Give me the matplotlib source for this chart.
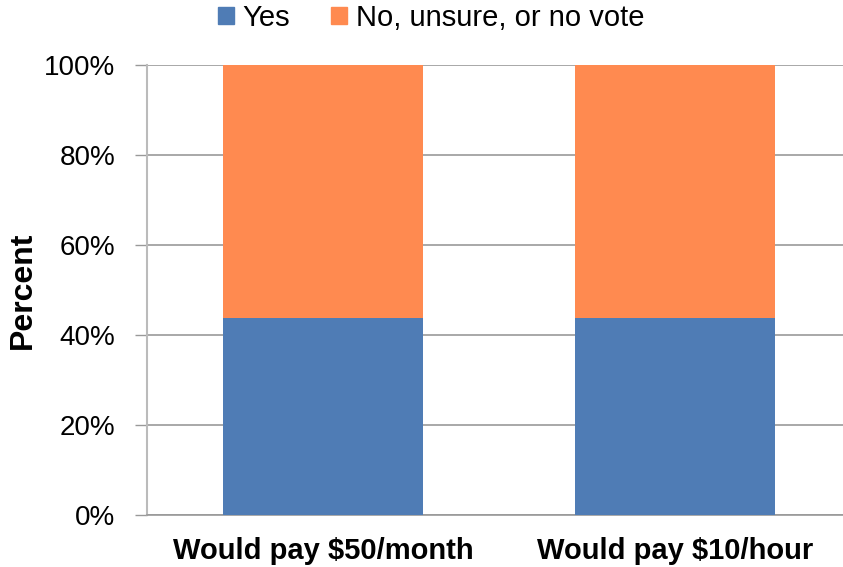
import matplotlib
matplotlib.use("Agg")
import matplotlib.pyplot as plt
from matplotlib.patches import Patch

categories = ["Would pay $50/month", "Would pay $10/hour"]
yes_vals = [43.8, 43.8]
no_vals = [56.2, 56.2]
series_names = ["Yes", "No, unsure, or no vote"]
yticks = [0, 20, 40, 60, 80, 100]
ytick_labels = ["0%", "20%", "40%", "60%", "80%", "100%"]

BLUE = "#4F7CB5"
ORANGE = "#FF8A50"

plt.rcParams['font.family'] = ['Liberation Sans', 'DejaVu Sans']

W, H = 843, 567
fig = plt.figure(figsize=(W / 100, H / 100), dpi=100)
ax = fig.add_axes([147 / W, 1 - 515 / H, (851 - 147) / W, (515 - 65) / H])

x = list(range(len(categories)))
ax.bar(x, yes_vals, width=0.57, color=BLUE, zorder=3)
ax.bar(x, no_vals, bottom=yes_vals, width=0.57, color=ORANGE, zorder=3)

ax.set_xlim(-0.5, 1.5)
ax.set_ylim(0, 100)
ax.set_yticks(yticks)
ax.set_yticklabels(ytick_labels, fontsize=20)
ax.set_xticks(x)
ax.set_xticklabels(categories, fontsize=21, fontweight='bold')
ax.tick_params(axis='x', length=0, pad=16)
ax.tick_params(axis='y', length=9, width=1, color='#999999', pad=14)

ax.yaxis.grid(True, color='#999999', linewidth=1.2, zorder=0)
for s in ['top', 'right']:
    ax.spines[s].set_visible(False)
ax.spines['left'].set_color('#BBBBBB')
ax.spines['left'].set_linewidth(1.5)
ax.spines['bottom'].set_color('#999999')
ax.spines['bottom'].set_linewidth(1.2)

ax.set_ylabel("Percent", fontsize=23, fontweight='bold', labelpad=4)

handles = [Patch(color=BLUE, label=series_names[0]),
           Patch(color=ORANGE, label=series_names[1])]
fig.legend(handles=handles, loc='center', bbox_to_anchor=(431 / W, 1 - 18 / H),
           ncol=2, frameon=False, fontsize=21, handlelength=0.55, handleheight=0.55,
           handletextpad=0.3, columnspacing=1.4, borderpad=0)

fig.savefig("out.png", dpi=100)
